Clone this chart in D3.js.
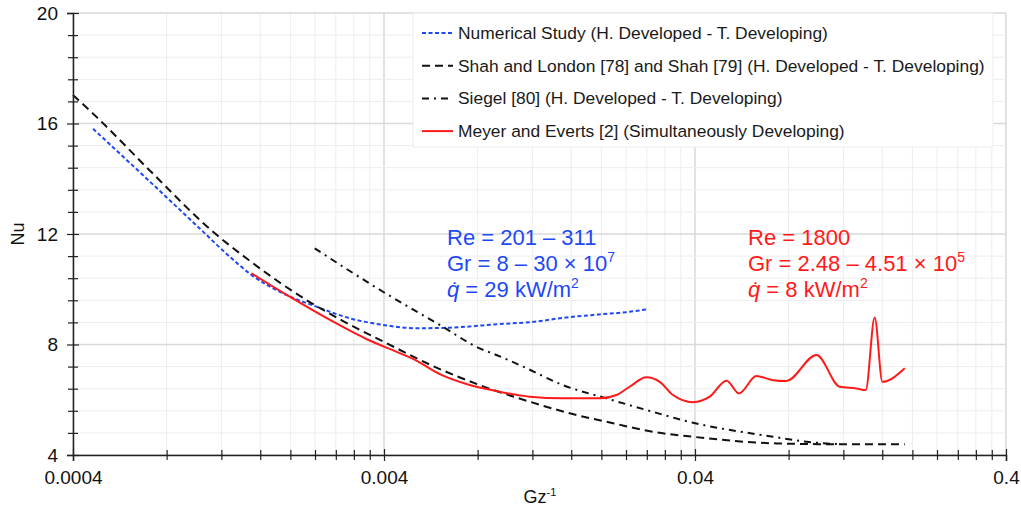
<!DOCTYPE html>
<html>
<head>
<meta charset="utf-8">
<script src="https://cdn.jsdelivr.net/npm/d3@7"></script>
<style>
    body { margin: 0; background: #fff; }
    svg { font-family: "Liberation Sans", Arial, Helvetica, sans-serif; }
</style>
</head>
<body>
<div id="chart"></div>
<script>
// values
const numGz = [0.000464, 0.000706, 0.001022, 0.001276, 0.001498, 0.001893, 0.002425, 0.003103, 0.00397, 0.005085, 0.006508, 0.00942, 0.01236, 0.01469, 0.01975, 0.02407, 0.0279];
const numNu = [15.81, 13.9, 12.2, 11.18, 10.52, 9.85, 9.37, 8.95, 8.71, 8.59, 8.61, 8.74, 8.83, 8.95, 9.09, 9.17, 9.27];

const shahGz = [0.0004, 0.000476, 0.000706, 0.001128, 0.001444, 0.002252, 0.002954, 0.004072, 0.005751, 0.008124, 0.01176, 0.01582, 0.0218, 0.02932, 0.0394, 0.0731, 0.1168, 0.189];
const shahNu = [17.03, 16.24, 14.3, 12.08, 11.12, 9.61, 8.85, 8.05, 7.22, 6.53, 5.93, 5.51, 5.15, 4.84, 4.66, 4.42, 4.39, 4.39];

const siegelGz = [0.002395, 0.00397, 0.006044, 0.008124, 0.00919, 0.0112, 0.01505, 0.02076, 0.0279, 0.0394, 0.0713, 0.0913, 0.1168];
const siegelNu = [11.48, 9.91, 8.71, 7.86, 7.62, 7.20, 6.53, 6.05, 5.63, 5.17, 4.66, 4.48, 4.39];

const meyerGz = [0.001498, 0.00199, 0.002611, 0.003511, 0.004492, 0.00496, 0.006044, 0.007363, 0.00942, 0.01176, 0.01505, 0.01975, 0.02236, 0.02466, 0.0279, 0.0308, 0.03399, 0.0394, 0.0446, 0.0505, 0.0554, 0.0630, 0.0713, 0.0787, 0.0983, 0.1168, 0.1322, 0.1416, 0.1513, 0.1602, 0.189];
const meyerNu = [10.58, 9.73, 8.96, 8.20, 7.69, 7.48, 6.93, 6.57, 6.29, 6.11, 6.05, 6.05, 6.17, 6.47, 6.81, 6.65, 6.17, 5.91, 6.11, 6.69, 6.23, 6.86, 6.71, 6.68, 7.62, 6.47, 6.41, 6.35, 8.98, 6.65, 7.14];

const legendLabels = [
    "Numerical Study (H. Developed - T. Developing)",
    "Shah and London [78] and Shah [79] (H. Developed - T. Developing)",
    "Siegel [80] (H. Developed - T. Developing)",
    "Meyer and Everts [2] (Simultaneously Developing)"
];
const xDecades = [0.0004, 0.004, 0.04, 0.4];
const yMajor = [4, 8, 12, 16, 20];

const blue = "#1f48f5", red = "#ff1a1a";

const margin = { top: 13, right: 15, bottom: 60, left: 73 };
const W = 1021, H = 515;
const width = W - margin.left - margin.right;
const height = H - margin.top - margin.bottom;

const svg = d3.select("#chart").append("svg")
    .attr("width", W)
    .attr("height", H);
const g = svg.append("g")
    .attr("transform", "translate(" + margin.left + "," + margin.top + ")");

const x = d3.scaleLog().domain([0.0004, 0.4]).range([0, width]);
const y = d3.scaleLinear().domain([4, 20]).range([height, 0]);

// tick sets
const xTicks = [];
xDecades.slice(0, 3).forEach(d => { for (let k = 1; k <= 9; k++) xTicks.push(d * k); });
xTicks.push(0.4);
const yTicks = d3.range(0, 21).map(i => +(4 + i * 0.8).toFixed(1));
const isXMajor = v => xDecades.some(d => Math.abs(v - d) < d * 1e-6);
const isYMajor = v => yMajor.includes(v);

// grid
g.append("g").selectAll("line").data(xTicks).enter().append("line")
    .attr("x1", d => x(d)).attr("x2", d => x(d))
    .attr("y1", 0).attr("y2", height)
    .attr("stroke", d => isXMajor(d) ? "#d9d9d9" : "#ededed")
    .attr("stroke-width", d => isXMajor(d) ? 1.5 : 1);
g.append("g").selectAll("line").data(yTicks).enter().append("line")
    .attr("x1", 0).attr("x2", width)
    .attr("y1", d => y(d)).attr("y2", d => y(d))
    .attr("stroke", d => isYMajor(d) ? "#d9d9d9" : "#ededed")
    .attr("stroke-width", d => isYMajor(d) ? 1.5 : 1);

// legend box sits over the grid
const lg = svg.append("g").attr("transform", "translate(413,13)");
lg.append("rect")
    .attr("width", 580).attr("height", 134)
    .attr("fill", "#fff").attr("stroke", "#ececec");

const series = [
    { gz: numGz, nu: numNu, color: blue, dash: "4,2.5", w: 2 },
    { gz: shahGz, nu: shahNu, color: "#111", dash: "8,5", w: 2 },
    { gz: siegelGz, nu: siegelNu, color: "#111", dash: "7,5,2,5", w: 2 },
    { gz: meyerGz, nu: meyerNu, color: red, dash: null, w: 2 }
];

const line = d3.line()
    .x(d => x(d[0]))
    .y(d => y(d[1]))
    .curve(d3.curveMonotoneX);

series.forEach(s => {
    g.append("path")
        .datum(s.gz.map((v, i) => [v, s.nu[i]]))
        .attr("fill", "none")
        .attr("stroke", s.color)
        .attr("stroke-width", s.w)
        .attr("stroke-dasharray", s.dash)
        .attr("d", line);
});

series.forEach((s, i) => {
    const yy = 20 + i * 32.7;
    lg.append("line")
        .attr("x1", 9).attr("x2", 40).attr("y1", yy).attr("y2", yy)
        .attr("stroke", s.color).attr("stroke-width", s.w)
        .attr("stroke-dasharray", s.dash);
    lg.append("text")
        .attr("x", 45).attr("y", yy).attr("dy", "0.35em")
        .attr("font-size", 17.4).attr("fill", "#1a1a1a")
        .text(legendLabels[i]);
});

// axes
const xAxis = g.append("g")
    .attr("transform", "translate(0," + height + ")")
    .call(d3.axisBottom(x).tickValues(xTicks).tickSize(6)
        .tickFormat(d => isXMajor(d) ? d3.format("")(+d.toPrecision(1)) : ""));
xAxis.select(".domain").attr("stroke", "#222").attr("stroke-width", 1.5);
xAxis.selectAll(".tick line")
    .attr("stroke", "#222").attr("stroke-width", 1.2)
    .attr("y1", d => isXMajor(d) ? -6 : -5)
    .attr("y2", d => isXMajor(d) ? 6 : 5);
xAxis.selectAll(".tick text")
    .attr("y", 16).attr("font-size", 19).attr("fill", "#111");

const yAxis = g.append("g")
    .call(d3.axisLeft(y).tickValues(yTicks).tickSize(6)
        .tickFormat(d => isYMajor(d) ? d : ""));
yAxis.select(".domain").attr("stroke", "#222").attr("stroke-width", 1.5);
yAxis.selectAll(".tick line")
    .attr("stroke", "#222").attr("stroke-width", 1.2)
    .attr("x1", d => isYMajor(d) ? 6 : 5)
    .attr("x2", d => isYMajor(d) ? -6 : -5);
yAxis.selectAll(".tick text")
    .attr("x", -15).attr("font-size", 19).attr("fill", "#111");

// axis titles
const xt = svg.append("text")
    .attr("x", 540).attr("y", 503)
    .attr("text-anchor", "middle").attr("font-size", 18).attr("fill", "#111");
xt.append("tspan").text("Gz");
xt.append("tspan").attr("dy", -7).attr("font-size", 11).text("-1");

svg.append("text")
    .attr("transform", "translate(24,234) rotate(-90)")
    .attr("text-anchor", "middle").attr("font-size", 18).attr("fill", "#111")
    .text("Nu");

// annotations
function note(x0, color, re, grA, grExp, q) {
    const t = svg.append("g").attr("fill", color).attr("font-size", 22);
    t.append("text").attr("x", x0).attr("y", 245).text(re);
    const gr = t.append("text").attr("x", x0).attr("y", 271);
    gr.append("tspan").text(grA);
    gr.append("tspan").attr("dy", -9).attr("font-size", 14).text(grExp);
    const qt = t.append("text").attr("x", x0).attr("y", 297);
    qt.append("tspan").attr("font-style", "italic").text("q\u0307");
    qt.append("tspan").text(" = " + q + " kW/m");
    qt.append("tspan").attr("dy", -9).attr("font-size", 14).text("2");
}
note(447, blue, "Re = 201 \u2013 311", "Gr = 8 \u2013 30 \u00d7 10", "7", "29");
note(748, red, "Re = 1800", "Gr = 2.48 \u2013 4.51 \u00d7 10", "5", "8");
</script>
</body>
</html>
